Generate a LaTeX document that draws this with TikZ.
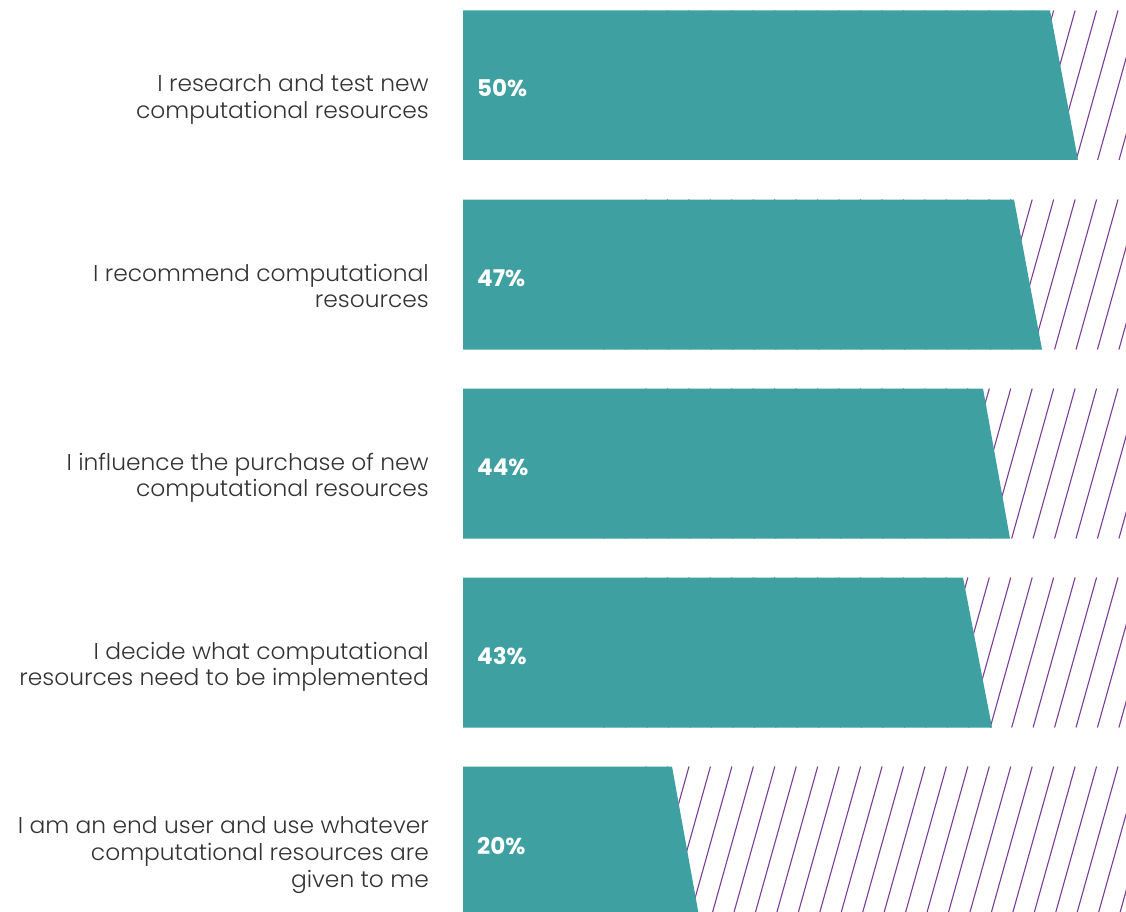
\documentclass[tikz,border=0pt]{standalone}
\usepackage{fontspec}
\newfontfamily\lightfont{Poppins Light}[FakeStretch=1.02]
\newfontfamily\boldfont{Poppins Bold}
\definecolor{tealc}{HTML}{3FA0A1}
\definecolor{hatch}{HTML}{7D3C98}
\definecolor{txt}{HTML}{333333}
\tikzset{
  barfill/.style={fill=tealc, draw=none},
  hatchline/.style={draw=hatch, line width=1.1pt},
  pct/.style={anchor=base west, inner sep=0pt, text=white, font=\boldfont\fontsize{23}{27}\selectfont},
  lbl/.style={anchor=base east, inner sep=0pt, text=txt, font=\lightfont\fontsize{22.9}{27}\selectfont}
}
\newcommand{\hatchbar}[4]{% top, bottom, xtop, xbottom
  \begin{scope}
    \clip (463,#1) rectangle (1126,#2);
    \foreach \k in {-3,...,22} {
      \pgfmathsetmacro{\xa}{1118-21.45*\k}
      \pgfmathsetmacro{\xb}{\xa-0.28*(#2-#1)}
      \draw[hatchline] (\xa,#1) -- (\xb,#2);
    }
  \end{scope}
  \fill[barfill] (463,#1) -- (#3,#1) -- (#4,#2) -- (463,#2) -- cycle;
}
\begin{document}
\begin{tikzpicture}[x=1pt,y=-1pt]
\useasboundingbox (0,0) rectangle (1126,912);
\fill[white] (0,0) rectangle (1126,912);
\hatchbar{10.5}{160}{1050}{1078}
\hatchbar{199.5}{349.5}{1014}{1042}
\hatchbar{388.5}{538.5}{983}{1010}
\hatchbar{577.5}{727.5}{963}{992}
\hatchbar{766.5}{916}{672}{699}
\node[pct] (p1) at (477,97) {50\%};
\node[pct] (p2) at (477,286) {47\%};
\node[pct] (p3) at (477,475) {44\%};
\node[pct] (p4) at (477,664) {43\%};
\node[pct] (p5) at (477,854) {20\%};
\node[lbl] (l1a) at (429,92) {I research and test new};
\node[lbl] (l1b) at (429,118.5) {computational resources};
\node[lbl] (l2a) at (429,281) {I recommend computational};
\node[lbl] (l2b) at (429,307.5) {resources};
\node[lbl] (l3a) at (429,470) {I influence the purchase of new};
\node[lbl] (l3b) at (429,496.5) {computational resources};
\node[lbl] (l4a) at (429,659) {I decide what computational};
\node[lbl] (l4b) at (429,685.5) {resources need to be implemented};
\node[lbl] (l5a) at (429,833) {I am an end user and use whatever};
\node[lbl] (l5b) at (429,860) {computational resources are};
\node[lbl] (l5c) at (429,887) {given to me};
\end{tikzpicture}
\end{document}
